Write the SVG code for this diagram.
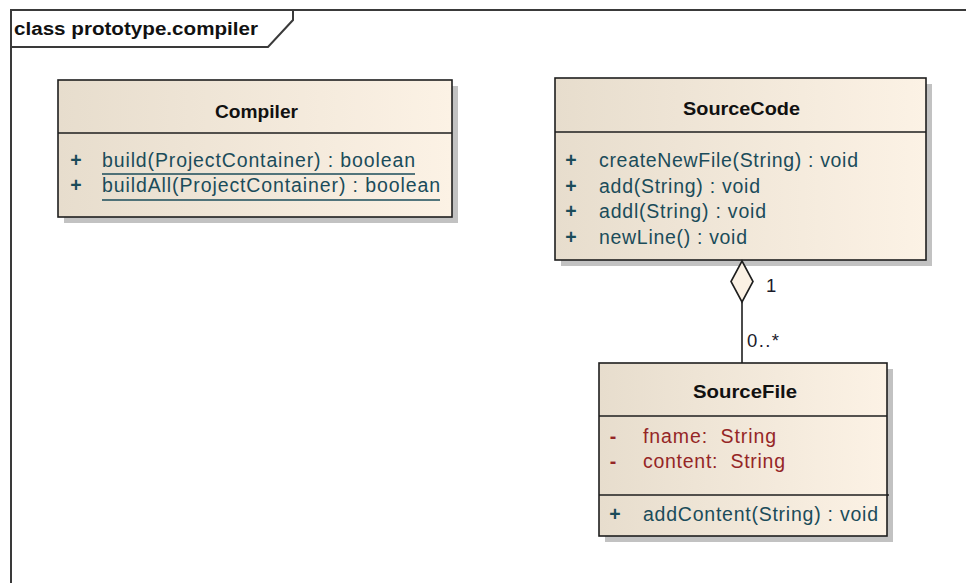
<svg xmlns="http://www.w3.org/2000/svg" width="966" height="583" viewBox="0 0 966 583">
  <defs>
    <linearGradient id="boxFill" x1="0" y1="0" x2="1" y2="0">
      <stop offset="0" stop-color="#e7ddcd"/>
      <stop offset="1" stop-color="#fcf2e5"/>
    </linearGradient>
    <style>
      .shadow { fill: #c2c2c2; }
      .box { fill: url(#boxFill); stroke: #1e1e1e; stroke-width: 1.6; }
      .div { stroke: #1e1e1e; stroke-width: 1.6; }
      .title { font-family: "Liberation Sans", Arial, sans-serif; font-weight: bold; font-size: 18.5px; fill: #111; text-anchor: middle; }
      .op { font-family: "Liberation Sans", Arial, sans-serif; font-size: 19.5px; fill: #1b4c5a; }
      .attr { font-family: "Liberation Sans", Arial, sans-serif; font-size: 19.5px; fill: #952626; }
      .vis { text-anchor: middle; font-weight: bold; }
      .ul { stroke: #1b4c5a; stroke-width: 1.3; }
      .frame { fill: none; stroke: #3a3a3a; stroke-width: 2; }
      .frameText { font-family: "Liberation Sans", Arial, sans-serif; font-weight: bold; font-size: 18px; fill: #111; }
      .conn { stroke: #1e1e1e; stroke-width: 1.6; fill: none; }
      .mult { font-family: "Liberation Sans", Arial, sans-serif; font-size: 18.5px; fill: #1a1a2a; }
    </style>
  </defs>

  <rect x="0" y="0" width="966" height="583" fill="#ffffff"/>

  <g id="frame">
    <path class="frame" d="M11,583 V10 H966"/>
    <path class="frame" d="M11,47 H268 L293,20 V10"/>
    <text class="frameText" x="14" y="35" textLength="244" lengthAdjust="spacingAndGlyphs">class prototype.compiler</text>
  </g>

  <g id="Compiler">
    <rect class="shadow" x="64" y="86" width="394" height="137"/>
    <rect class="box" x="58" y="80" width="394" height="137"/>
    <line class="div" x1="58" y1="133" x2="452" y2="133"/>
    <text class="title" x="256.5" y="118" textLength="83" lengthAdjust="spacingAndGlyphs">Compiler</text>
    <text class="op vis" x="76" y="167">+</text>
    <text class="op" x="102" y="167" textLength="313" lengthAdjust="spacing">build(ProjectContainer) : boolean</text>
    <line class="ul" x1="102" y1="174" x2="415" y2="174"/>
    <text class="op vis" x="76" y="192">+</text>
    <text class="op" x="102" y="192" textLength="338" lengthAdjust="spacing">buildAll(ProjectContainer) : boolean</text>
    <line class="ul" x1="102" y1="200" x2="440" y2="200"/>
  </g>

  <g id="SourceCode">
    <rect class="shadow" x="561" y="84" width="371" height="182"/>
    <rect class="box" x="555" y="78" width="371" height="182"/>
    <line class="div" x1="555" y1="132" x2="926" y2="132"/>
    <text class="title" x="741.5" y="115" textLength="117" lengthAdjust="spacingAndGlyphs">SourceCode</text>
    <text class="op vis" x="571" y="167">+</text>
    <text class="op" x="599" y="167" textLength="259" lengthAdjust="spacing">createNewFile(String) : void</text>
    <text class="op vis" x="571" y="193">+</text>
    <text class="op" x="599" y="193" textLength="161" lengthAdjust="spacing">add(String) : void</text>
    <text class="op vis" x="571" y="218">+</text>
    <text class="op" x="599" y="218" textLength="167" lengthAdjust="spacing">addl(String) : void</text>
    <text class="op vis" x="571" y="244">+</text>
    <text class="op" x="599" y="244" textLength="148" lengthAdjust="spacing">newLine() : void</text>
  </g>

  <g id="SourceFile">
    <rect class="shadow" x="605" y="369" width="288" height="173"/>
    <rect class="box" x="599" y="363" width="288" height="173"/>
    <line class="div" x1="599" y1="416" x2="887" y2="416"/>
    <line class="div" x1="599" y1="495" x2="889" y2="495"/>
    <text class="title" x="745" y="398" textLength="104" lengthAdjust="spacingAndGlyphs">SourceFile</text>
    <text class="attr vis" x="613" y="443">-</text>
    <text class="attr" x="643" y="443" xml:space="preserve" textLength="133" lengthAdjust="spacing">fname:  String</text>
    <text class="attr vis" x="613" y="468">-</text>
    <text class="attr" x="643" y="468" xml:space="preserve" textLength="142" lengthAdjust="spacing">content:  String</text>
    <text class="op vis" x="615" y="521">+</text>
    <text class="op" x="643" y="521" textLength="235" lengthAdjust="spacing">addContent(String) : void</text>
  </g>

  <g id="connectors">
    <g id="SourceCode-SourceFile">
      <line class="conn" x1="742" y1="302" x2="742" y2="363"/>
      <path d="M742,261 L753,281.5 L742,302 L731,281.5 Z" fill="#fbf1e4" stroke="#1e1e1e" stroke-width="1.6"/>
      <text class="mult" x="766" y="292">1</text>
      <text class="mult" x="747" y="347" textLength="32" lengthAdjust="spacing">0..*</text>
    </g>
  </g>
</svg>
